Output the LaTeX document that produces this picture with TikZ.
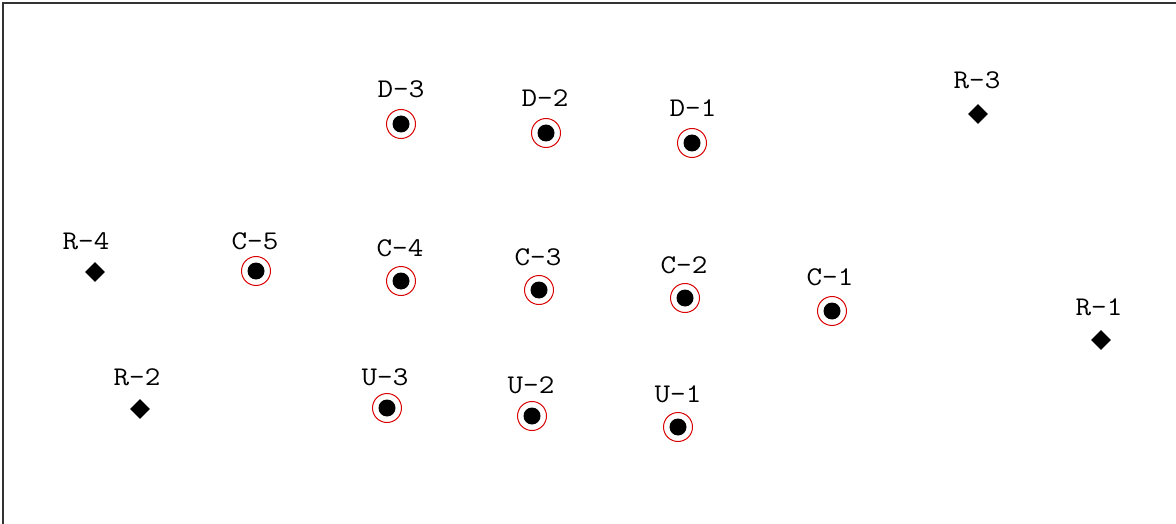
\documentclass[tikz,border=0pt]{standalone}
\usepackage{fontspec}
\newfontfamily\lblfont{Latin Modern Mono}[FakeStretch=1.12]
\usetikzlibrary{shapes.geometric}
\begin{document}
\begin{tikzpicture}[x=1pt,y=-1pt,
  lbl/.style={font=\lblfont\fontsize{27}{27}\selectfont, inner sep=0pt},
  well/.style={circle, fill=black, minimum size=17pt, inner sep=0pt},
  ring/.style={circle, draw=red!85!black, line width=1pt, minimum size=29pt, inner sep=0pt},
  rig/.style={diamond, fill=black, minimum size=20pt, inner sep=0pt}]
\useasboundingbox (0,0) rectangle (1176,524);
\draw[line width=2pt, black!80] (3,524) -- (3,3) -- (1176,3);
% wells
\foreach \n/\x/\y in {D3/401/124, D2/546/133, D1/692/143,
  C5/256/271, C4/401/281, C3/539/290, C2/685/298, C1/832/311,
  U3/387/408, U2/532/416, U1/678/427}{
  \node[ring] (r\n) at (\x,\y) {};
  \node[well] (w\n) at (\x,\y) {};
}
\node[lbl] (lD3) at (401,89) {D-3};
\node[lbl] (lD2) at (545,98) {D-2};
\node[lbl] (lD1) at (693,108) {D-1};
\node[lbl] (lC5) at (255,241) {C-5};
\node[lbl] (lC4) at (400,248) {C-4};
\node[lbl] (lC3) at (538,257) {C-3};
\node[lbl] (lC2) at (684,265) {C-2};
\node[lbl] (lC1) at (830,277) {C-1};
\node[lbl] (lU3) at (385,377) {U-3};
\node[lbl] (lU2) at (531,385) {U-2};
\node[lbl] (lU1) at (678,394) {U-1};
% rigs
\node[rig] (R3) at (978,114) {};
\node[rig] (R4) at (95,272) {};
\node[rig] (R1) at (1101,340) {};
\node[rig] (R2) at (140,409) {};
\node[lbl] (lR3) at (977,80) {R-3};
\node[lbl] (lR4) at (86,241) {R-4};
\node[lbl] (lR1) at (1099,307) {R-1};
\node[lbl] (lR2) at (137,377) {R-2};
\end{tikzpicture}
\end{document}
